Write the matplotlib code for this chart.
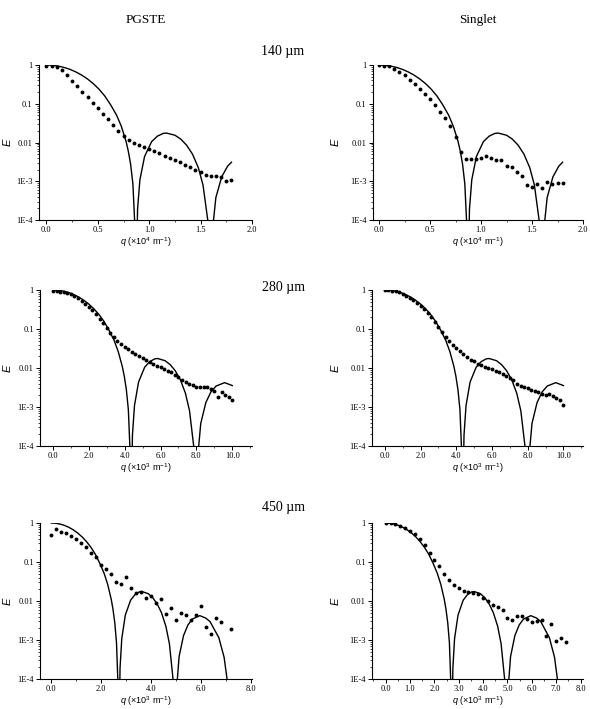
import matplotlib
matplotlib.use("Agg")
import matplotlib.pyplot as plt
from matplotlib.ticker import LogLocator, MultipleLocator, FormatStrFormatter, NullFormatter

plt.rcParams['font.family'] = ['Liberation Serif', 'DejaVu Serif']
plt.rcParams['mathtext.fontset'] = 'custom'
plt.rcParams['mathtext.rm'] = 'Liberation Sans'
plt.rcParams['mathtext.it'] = 'Liberation Sans:italic'

# --- data -----------------------------------------------------------------
column_titles = ["PGSTE", "Singlet"]
row_titles = ["140 \u00b5m", "280 \u00b5m", "450 \u00b5m"]
ytick_values = [1e-4, 1e-3, 1e-2, 1e-1, 1]
ytick_labels = ["1E-4", "1E-3", "0.01", "0.1", "1"]
xlabels = [r"$q$ (×10$^{4}$ m$^{-1}$)", r"$q$ (×10$^{3}$ m$^{-1}$)", r"$q$ (×10$^{3}$ m$^{-1}$)"]

# model curves (solid lines), one per diameter
fit_q_140 = [0, 0.0568, 0.1137, 0.1705, 0.2274, 0.2842, 0.341, 0.3979, 0.4548, 0.5116,
             0.5684, 0.6253, 0.6821, 0.7276, 0.7731, 0.7958, 0.8186, 0.8413, 0.8640, 0.8713,
             0.8868, 0.9095, 0.955, 1.0232, 1.080, 1.1369, 1.1687, 1.2506, 1.3074, 1.3643,
             1.4211, 1.4779, 1.5234, 1.5689, 1.5953, 1.6144, 1.6485, 1.7053, 1.7622, 1.80]
fit_e_140 = [1.0, 0.984, 0.939, 0.867, 0.775, 0.667, 0.553, 0.44, 0.333, 0.238,
             0.158, 0.0935, 0.0511, 0.0267, 0.0111, 0.00616, 0.00282, 0.00086, 4.5e-5, 1e-6,
             1.9e-4, 1.09e-3, 4.36e-3, 0.0105, 0.0146, 0.0172, 0.0175, 0.0154, 0.0122, 0.0085,
             0.0050, 0.00224, 8.0e-4, 1.03e-4, 1e-6, 5.1e-5, 3.8e-4, 1.30e-3, 2.44e-3, 3.1e-3]

fit_q_280 = [0, 0.284, 0.568, 0.853, 1.137, 1.421, 1.705, 1.990, 2.274, 2.558,
             2.842, 3.126, 3.411, 3.638, 3.865, 3.979, 4.093, 4.206, 4.320, 4.357,
             4.434, 4.548, 4.775, 5.116, 5.400, 5.684, 5.844, 6.253, 6.537, 6.821,
             7.106, 7.390, 7.617, 7.845, 7.976, 8.072, 8.243, 8.527, 8.811, 9.095,
             9.573, 10.0]
fit_e_280 = [1.0, 0.984, 0.939, 0.867, 0.775, 0.667, 0.553, 0.44, 0.333, 0.238,
             0.158, 0.0935, 0.0511, 0.0267, 0.0111, 0.00616, 0.00282, 0.00086, 4.5e-5, 1e-6,
             1.9e-4, 1.09e-3, 4.36e-3, 0.0105, 0.0146, 0.0172, 0.0175, 0.0154, 0.0122, 0.0085,
             0.0050, 0.00224, 8.0e-4, 1.03e-4, 1e-6, 5.1e-5, 3.8e-4, 1.30e-3, 2.44e-3, 3.44e-3,
             4.21e-3, 3.55e-3]

fit_q_450 = [0, 0.177, 0.354, 0.531, 0.707, 0.884, 1.061, 1.238, 1.415, 1.592,
             1.768, 1.945, 2.122, 2.264, 2.405, 2.476, 2.547, 2.617, 2.688, 2.711,
             2.759, 2.829, 2.971, 3.183, 3.360, 3.537, 3.636, 3.890, 4.067, 4.244,
             4.421, 4.598, 4.739, 4.881, 4.963, 5.022, 5.128, 5.305, 5.482, 5.659,
             5.956, 6.189, 6.366, 6.720, 6.932, 7.074, 7.194]
fit_e_450 = [1.0, 0.984, 0.939, 0.867, 0.775, 0.667, 0.553, 0.44, 0.333, 0.238,
             0.158, 0.0935, 0.0511, 0.0267, 0.0111, 0.00616, 0.00282, 0.00086, 4.5e-5, 1e-6,
             1.9e-4, 1.09e-3, 4.36e-3, 0.0105, 0.0146, 0.0172, 0.0175, 0.0154, 0.0122, 0.0085,
             0.0050, 0.00224, 8.0e-4, 1.03e-4, 1e-6, 5.1e-5, 3.8e-4, 1.30e-3, 2.44e-3, 3.44e-3,
             4.21e-3, 3.67e-3, 2.97e-3, 1.15e-3, 3.6e-4, 7.6e-5, 1e-6]

# measured attenuation (dots)
q_140 = [0.00, 0.05, 0.10, 0.15, 0.20, 0.25, 0.30, 0.35, 0.40, 0.45,
         0.50, 0.55, 0.60, 0.65, 0.70, 0.75, 0.80, 0.85, 0.90, 0.95,
         1.00, 1.05, 1.10, 1.15, 1.20, 1.25, 1.30, 1.35, 1.40, 1.45,
         1.50, 1.55, 1.60, 1.65, 1.70, 1.75, 1.80]
pgste_140 = [0.95, 0.93, 0.87, 0.74, 0.54, 0.39, 0.28, 0.20, 0.145, 0.105,
             0.076, 0.055, 0.040, 0.029, 0.020, 0.0147, 0.0116, 0.0099, 0.0086, 0.0075,
             0.0067, 0.0060, 0.0053, 0.0046, 0.0041, 0.0035, 0.0031, 0.0026, 0.0023, 0.0020,
             0.0017, 0.00145, 0.00137, 0.00135, 0.00132, 0.00104, 0.00105]
singlet_140 = [1.0, 0.97, 0.92, 0.80, 0.67, 0.54, 0.42, 0.32, 0.24, 0.18,
               0.13, 0.092, 0.063, 0.042, 0.027, 0.014, 0.0058, 0.0037, 0.0037, 0.0037,
               0.0039, 0.0044, 0.0040, 0.0036, 0.0035, 0.0025, 0.0024, 0.0017, 0.00137, 0.0008,
               0.00072, 0.00085, 0.00068, 0.00094, 0.00085, 0.00088, 0.00088]

q_280 = [0.0, 0.2, 0.4, 0.6, 0.8, 1.0, 1.2, 1.4, 1.6, 1.8,
         2.0, 2.2, 2.4, 2.6, 2.8, 3.0, 3.2, 3.4, 3.6, 3.8,
         4.0, 4.2, 4.4, 4.6, 4.8, 5.0, 5.2, 5.4, 5.6, 5.8,
         6.0, 6.2, 6.4, 6.6, 6.8, 7.0, 7.2, 7.4, 7.6, 7.8,
         8.0, 8.2, 8.4, 8.6, 8.8, 9.0, 9.2, 9.4, 9.6, 9.8, 10.0]
pgste_280 = [0.92, 0.93, 0.91, 0.88, 0.83, 0.77, 0.70, 0.62, 0.53, 0.45,
             0.37, 0.30, 0.24, 0.185, 0.14, 0.105, 0.078, 0.062, 0.050, 0.042,
             0.035, 0.030, 0.026, 0.023, 0.020, 0.018, 0.016, 0.0142, 0.0128, 0.0115,
             0.0105, 0.0095, 0.0086, 0.0077, 0.0068, 0.0060, 0.0050, 0.0044, 0.0040, 0.0036,
             0.0033, 0.0032, 0.0033, 0.0033, 0.0029, 0.0026, 0.0018, 0.0024, 0.0020, 0.0018,
             0.0015]
singlet_280 = [0.99, 0.99, 0.97, 0.93, 0.87, 0.80, 0.72, 0.64, 0.55, 0.47,
               0.39, 0.32, 0.255, 0.20, 0.155, 0.115, 0.085, 0.063, 0.048, 0.039,
               0.033, 0.027, 0.023, 0.019, 0.0165, 0.015, 0.0128, 0.0117, 0.0105, 0.0098,
               0.0092, 0.0086, 0.0078, 0.0070, 0.0062, 0.0055, 0.0049, 0.0040, 0.0035, 0.0033,
               0.0030, 0.0027, 0.0026, 0.0024, 0.0021, 0.0020, 0.0021, 0.0019, 0.0017, 0.0015,
               0.0011]

q_450_pgste = [0.0, 0.2, 0.4, 0.6, 0.8, 1.0, 1.2, 1.4, 1.6, 1.8,
               2.0, 2.2, 2.4, 2.6, 2.8, 3.0, 3.2, 3.4, 3.6, 3.8,
               4.0, 4.2, 4.4, 4.6, 4.8, 5.0, 5.2, 5.4, 5.6, 5.8,
               6.0, 6.2, 6.4, 6.6, 6.8, 7.2]
pgste_450 = [0.50, 0.70, 0.60, 0.55, 0.46, 0.38, 0.30, 0.24, 0.167, 0.134,
             0.082, 0.067, 0.049, 0.031, 0.028, 0.042, 0.022, 0.016, 0.0166, 0.0122,
             0.0137, 0.0089, 0.0112, 0.0047, 0.0065, 0.0033, 0.0049, 0.0045, 0.0032, 0.0045,
             0.0073, 0.0021, 0.00145, 0.0036, 0.0029, 0.0019]
q_450_singlet = [0.0, 0.2, 0.4, 0.6, 0.8, 1.0, 1.2, 1.4, 1.6, 1.8,
                 2.0, 2.2, 2.4, 2.6, 2.8, 3.0, 3.2, 3.4, 3.6, 3.8,
                 4.0, 4.2, 4.4, 4.6, 4.8, 5.0, 5.2, 5.4, 5.6, 5.8,
                 6.0, 6.2, 6.4, 6.6, 6.8, 7.0, 7.2, 7.4]
singlet_450 = [0.99, 0.98, 0.95, 0.86, 0.75, 0.64, 0.51, 0.39, 0.27, 0.17,
               0.115, 0.077, 0.050, 0.035, 0.026, 0.021, 0.018, 0.0168, 0.0159, 0.0153,
               0.0121, 0.0099, 0.0081, 0.0069, 0.0060, 0.0037, 0.0032, 0.0042, 0.0042, 0.0035,
               0.0029, 0.0030, 0.0032, 0.00124, 0.0026, 0.00093, 0.00113, 0.00087]

# --- layout (pixel boxes of the axes in the 590x709 figure) ---------------
W, H = 590, 709
panels = [
    # (left, right, top, bottom px), xlim, major, minor, q dots, E dots, fit q, fit E, row
    ((39, 252, 65, 220), (-0.072, 2.0), 0.5, 0.25, q_140, pgste_140, fit_q_140, fit_e_140, 0),
    ((373, 583, 65, 220), (-0.059, 2.0), 0.5, 0.25, q_140, singlet_140, fit_q_140, fit_e_140, 0),
    ((40, 252, 290, 446), (-0.72, 11.1), 2.0, 1.0, q_280, pgste_280, fit_q_280, fit_e_280, 1),
    ((372, 583, 290, 446), (-0.72, 11.1), 2.0, 1.0, q_280, singlet_280, fit_q_280, fit_e_280, 1),
    ((40, 252, 523, 679), (-0.45, 8.05), 2.0, 1.0, q_450_pgste, pgste_450, fit_q_450, fit_e_450, 2),
    ((372, 583, 523, 679), (-0.56, 8.1), 1.0, 0.5, q_450_singlet, singlet_450, fit_q_450, fit_e_450, 2),
]

fig = plt.figure(figsize=(W / 100, H / 100), dpi=100)

for i, ((l, r, t, b), xlim, major, minor, qd, ed, qf, ef, row) in enumerate(panels):
    ax = fig.add_axes([l / W, 1 - b / H, (r - l) / W, (b - t) / H])
    ax.plot(qf, ef, color="black", lw=1.0)
    ax.plot(qd, ed, "o", color="black", ms=2.8, mew=0)
    ax.set_yscale("log")
    ax.set_ylim(1e-4, 1)
    ax.set_xlim(*xlim)
    ax.set_yticks(ytick_values, ytick_labels)
    ax.yaxis.set_minor_locator(LogLocator(base=10, subs=range(2, 10)))
    ax.yaxis.set_minor_formatter(NullFormatter())
    ax.xaxis.set_major_locator(MultipleLocator(major))
    ax.xaxis.set_minor_locator(MultipleLocator(minor))
    ax.xaxis.set_major_formatter(FormatStrFormatter("%.1f"))
    for side in ("top", "right"):
        ax.spines[side].set_visible(False)
    for side in ("left", "bottom"):
        ax.spines[side].set_linewidth(0.8)
    ax.tick_params(which="major", direction="out", length=3, width=0.7, labelsize=6, pad=1.5)
    ax.tick_params(which="minor", direction="out", length=1.6, width=0.5)

    label_x = 13 if i % 2 == 0 else 341
    ax.set_ylabel("$E$", fontsize=8)
    ax.yaxis.set_label_coords((label_x - l) / (r - l), 0.5)
    ax.set_xlabel(xlabels[row], fontsize=6.5, family="Liberation Sans")
    ax.xaxis.set_label_coords(0.5, -15 / (b - t))

fig.text(146 / W, 1 - 20 / H, column_titles[0], ha="center", va="center", fontsize=9.5)
fig.text(478 / W, 1 - 20 / H, column_titles[1], ha="center", va="center", fontsize=9.5)
for y, title in zip([52, 287, 507], row_titles):
    fig.text(283 / W, 1 - y / H, title, ha="center", va="center", fontsize=10)

fig.savefig("out.png", dpi=100)
